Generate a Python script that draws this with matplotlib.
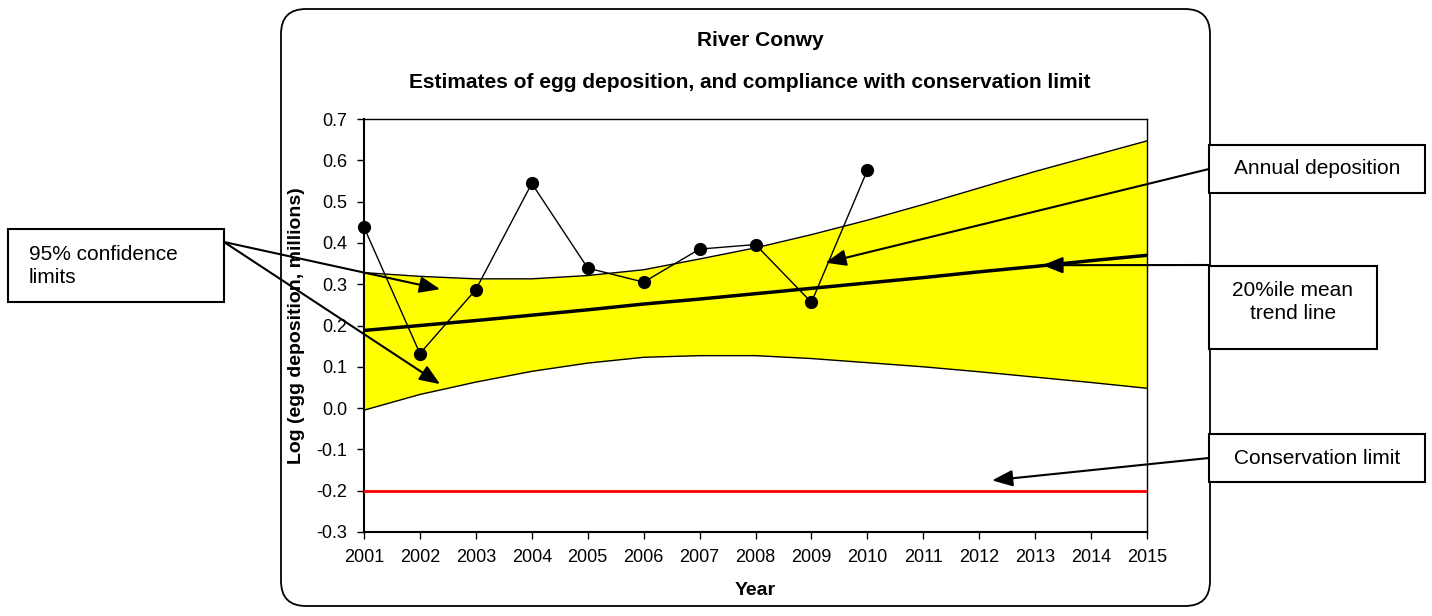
import matplotlib
matplotlib.use('Agg')
import matplotlib.pyplot as plt
from matplotlib.patches import Rectangle, FancyBboxPatch

plt.rcParams['font.family'] = ['Liberation Sans', 'DejaVu Sans']
plt.rcParams['axes.unicode_minus'] = False

# data
years = [2001, 2002, 2003, 2004, 2005, 2006, 2007, 2008, 2009, 2010, 2011, 2012, 2013, 2014, 2015]
upper = [0.328, 0.319, 0.313, 0.313, 0.321, 0.335, 0.361, 0.388, 0.420, 0.455, 0.493, 0.533, 0.573, 0.610, 0.647]
lower = [-0.005, 0.033, 0.063, 0.089, 0.109, 0.123, 0.127, 0.127, 0.120, 0.110, 0.100, 0.088, 0.075, 0.062, 0.048]
trend = [0.188, 0.200, 0.212, 0.225, 0.238, 0.252, 0.264, 0.277, 0.290, 0.303, 0.316, 0.330, 0.343, 0.357, 0.370]
annual_years = [2001, 2002, 2003, 2004, 2005, 2006, 2007, 2008, 2009, 2010]
annual = [0.438, 0.132, 0.287, 0.544, 0.339, 0.305, 0.385, 0.396, 0.256, 0.576]
cons_limit = -0.2

W, H = 1432, 616
fig = plt.figure(figsize=(W / 100, H / 100), dpi=100)

ax = fig.add_axes([364 / W, 1 - 532 / H, (1147 - 364) / W, (532 - 119) / H])
ax.fill_between(years, lower, upper, color='#ffff00', lw=0, zorder=1)
ax.plot(years, upper, color='black', lw=1, zorder=2)
ax.plot(years, lower, color='black', lw=1, zorder=2)
ax.plot(years, trend, color='black', lw=2.5, zorder=3)
ax.plot(years, [cons_limit] * len(years), color='red', lw=2, zorder=3)
ax.plot(annual_years, annual, color='black', lw=1, marker='o', ms=8.5, zorder=4, clip_on=False)

ax.set_xlim(2001, 2015)
ax.set_ylim(-0.3, 0.7)
ax.set_xticks(years)
ax.set_yticks([-0.3, -0.2, -0.1, 0.0, 0.1, 0.2, 0.3, 0.4, 0.5, 0.6, 0.7])
ax.yaxis.set_major_formatter(matplotlib.ticker.FormatStrFormatter('%.1f'))
ax.tick_params(labelsize=13, length=5, width=1, pad=7, direction='out')
for s in ax.spines.values():
    s.set_linewidth(1)
ax.spines['left'].set_linewidth(1.5)
ax.spines['bottom'].set_linewidth(1.5)

ax.set_ylabel('Log (egg deposition, millions)', fontsize=14, fontweight='bold')
ax.yaxis.set_label_coords(-0.075, 0.5)
ax.set_xlabel('Year', fontsize=14, fontweight='bold')
ax.xaxis.set_label_coords(0.5, -0.12)
ax.xaxis.label.set_va('top')

fig.text(760 / W, 1 - 40 / H, 'River Conwy', ha='center', va='center',
         fontsize=15, fontweight='bold')
fig.text(750 / W, 1 - 83 / H, 'Estimates of egg deposition, and compliance with conservation limit',
         ha='center', va='center', fontsize=15, fontweight='bold')

# overlay in pixel coordinates for the frame, callout boxes and arrows
ov = fig.add_axes([0, 0, 1, 1])
ov.set_xlim(0, W)
ov.set_ylim(H, 0)
ov.axis('off')

ov.add_patch(FancyBboxPatch((281, 9), 929, 597, boxstyle='round,pad=0,rounding_size=25',
                            fc='none', ec='black', lw=1.3, zorder=1))

boxes = [
    (8, 229, 216, 73),
    (1209, 145, 216, 48),
    (1209, 266, 168, 83),
    (1209, 434, 216, 48),
]
for x0, y0, w, h in boxes:
    ov.add_patch(Rectangle((x0, y0), w, h, fc='white', ec='black', lw=1.5, zorder=5))

ov.text(29, 266, '95% confidence\nlimits', ha='left', va='center', fontsize=15,
        linespacing=1.3, zorder=6)
ov.text(1317, 169, 'Annual deposition', ha='center', va='center', fontsize=15, zorder=6)
ov.text(1293, 302, '20%ile mean\ntrend line', ha='center', va='center', fontsize=15,
        linespacing=1.3, zorder=6)
ov.text(1317, 458, 'Conservation limit', ha='center', va='center', fontsize=15, zorder=6)

arrow = dict(arrowstyle='-|>,head_length=0.5,head_width=0.2', mutation_scale=25,
             color='black', lw=1.5, shrinkA=0, shrinkB=0)
callouts = [
    ((2002.36, 0.288), (224, 242)),
    ((2002.36, 0.058), (224, 242)),
    ((2009.25, 0.352), (1209, 169)),
    ((2013.13, 0.346), (1209, 265)),
    ((2012.23, -0.175), (1209, 458)),
]
for tip, tail in callouts:
    ov.annotate('', xy=tip, xycoords=ax.transData, xytext=tail, textcoords='data',
                arrowprops=arrow, annotation_clip=False, zorder=4)

fig.savefig('out.png', dpi=100)
